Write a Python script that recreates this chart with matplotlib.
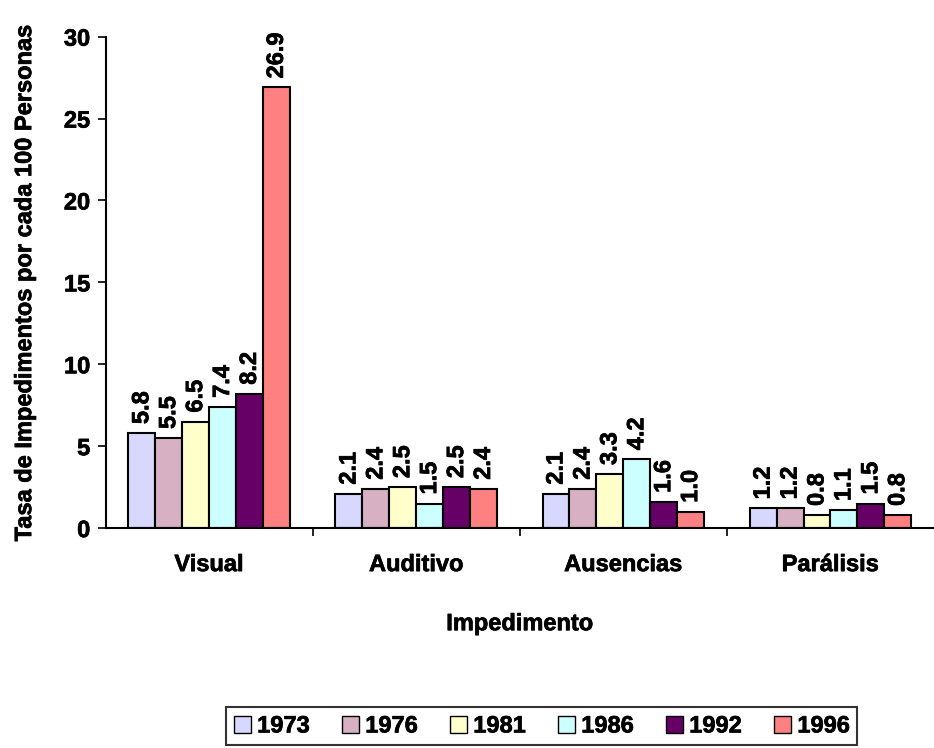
#!/usr/bin/env python3
"""plot.py — Tasa de impedimentos por año."""

import matplotlib
matplotlib.use("Agg")
import matplotlib.pyplot as plt
import matplotlib.patheffects as pe
from matplotlib.patches import Patch
import numpy as np

categories = ["Visual", "Auditivo", "Ausencias", "Parálisis"]
years = ["1973", "1976", "1981", "1986", "1992", "1996"]
values = {
    "1973": [5.8, 2.1, 2.1, 1.2],
    "1976": [5.5, 2.4, 2.4, 1.2],
    "1981": [6.5, 2.5, 3.3, 0.8],
    "1986": [7.4, 1.5, 4.2, 1.1],
    "1992": [8.2, 2.5, 1.6, 1.5],
    "1996": [26.9, 2.4, 1.0, 0.8],
}
colors = ["#D8D8FF", "#D7B0C4", "#FFFFCC", "#CCFFFF", "#660066", "#FF8080"]

plt.rcParams["font.family"] = ["Liberation Sans", "DejaVu Sans"]
plt.rcParams["font.weight"] = "bold"

FS = 17
HEAVY = [pe.withStroke(linewidth=0.5, foreground="black")]


def main() -> None:
    fig = plt.figure(figsize=(9.34, 7.48), dpi=100)
    ax = fig.add_axes([0.113, 0.294, 0.887, 0.657])

    x = np.arange(len(categories))
    width = 0.13
    for i, (yr, col) in enumerate(zip(years, colors)):
        pos = x - 2.5 * width + i * width
        bars = ax.bar(pos, values[yr], width, color=col, edgecolor="black",
                      linewidth=1.5, label=yr)
        for b, v in zip(bars, values[yr]):
            ax.text(b.get_x() + b.get_width() / 2, v + 0.55, f"{v:.1f}",
                    rotation=90, ha="center", va="bottom",
                    fontsize=FS, fontweight="bold", path_effects=HEAVY)

    ax.set_xlim(-0.5, len(categories) - 0.5)
    ax.set_ylim(0, 30)
    ax.set_yticks(range(0, 31, 5))
    ax.set_xticks(x)
    ax.set_xticklabels(categories, fontsize=FS, fontweight="bold")
    ax.set_xticks(np.arange(0.5, len(categories) - 0.5), minor=True)
    ax.tick_params(axis="x", which="major", length=0, pad=18)
    ax.tick_params(axis="x", which="minor", length=6, width=1.2,
                   direction="out")
    ax.tick_params(axis="y", labelsize=FS, length=6, width=1.2, pad=5)
    for t in ax.get_yticklabels() + ax.get_xticklabels():
        t.set_fontweight("bold")
        t.set_path_effects(HEAVY)

    ax.spines["top"].set_visible(False)
    ax.spines["right"].set_visible(False)
    ax.spines["left"].set_linewidth(1.5)
    ax.spines["bottom"].set_linewidth(1.5)

    xl = ax.set_xlabel("Impedimento", fontsize=FS, fontweight="bold",
                       labelpad=26)
    yl = ax.set_ylabel("Tasa de Impedimentos por cada 100 Personas",
                       fontsize=FS, fontweight="bold", labelpad=20)
    xl.set_path_effects(HEAVY)
    yl.set_path_effects(HEAVY)

    handles = [Patch(facecolor=c, edgecolor="black", label=y)
               for y, c in zip(years, colors)]
    leg = fig.legend(handles=handles, loc="center", ncol=6,
                     bbox_to_anchor=(0.58, 0.0295), fontsize=FS,
                     frameon=True, fancybox=False, edgecolor="black",
                     handlelength=0.75, handleheight=0.75, handletextpad=0.25,
                     columnspacing=1.35, borderpad=0.3)
    leg.get_frame().set_linewidth(1.5)
    for t in leg.get_texts():
        t.set_path_effects(HEAVY)

    fig.savefig("out.png", dpi=100)


if __name__ == "__main__":
    main()
